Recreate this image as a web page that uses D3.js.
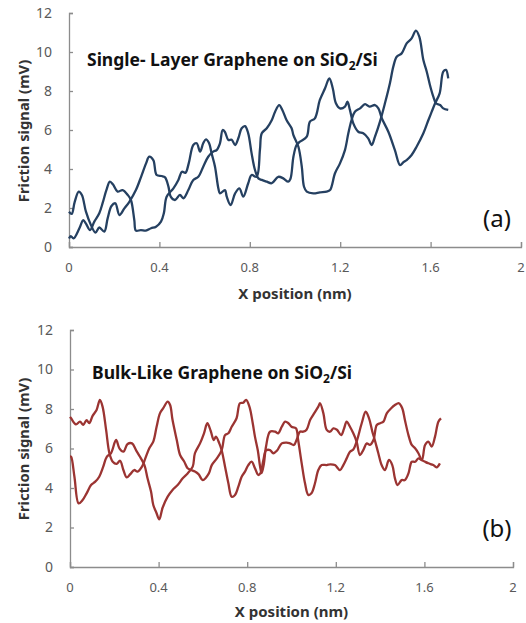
<!DOCTYPE html>
<html><head><meta charset="utf-8">
<script src="https://cdn.jsdelivr.net/npm/d3@7"></script>
<style>
body{margin:0;background:#fff;}
svg{display:block;font-family:"Noto Sans","Open Sans",sans-serif;}
</style></head>
<body><svg id="c" width="526" height="623"></svg>
<script>
// ---------- data ----------
const xTicks = [0, 0.4, 0.8, 1.2, 1.6, 2];
const yTicks = [0, 2, 4, 6, 8, 10, 12];

// Panel (a): single-layer graphene, two scan directions [x (nm), signal (mV)]
const singleTrace = [[0,1.81],[.012,1.7],[.025,2.3],[.043,2.84],[.057,2.67],[.075,1.81],[.097,1.13],[.117,.74],[.134,1.0],[.156,.79],[.171,1.47],[.188,2.1],[.205,2.24],[.223,1.64],[.245,1.98],[.267,2.32],[.296,2.92],[.319,3.6],[.341,4.29],[.355,4.63],[.373,4.46],[.388,3.69],[.41,3.64],[.425,3.57],[.44,3.1],[.45,2.58],[.469,2.41],[.491,2.67],[.506,2.5],[.528,2.92],[.55,3.44],[.572,3.6],[.594,4.12],[.616,4.63],[.638,4.89],[.653,4.97],[.668,5.32],[.68,6.0],[.69,5.9],[.705,5.49],[.72,5.5],[.735,5.23],[.75,5.6],[.764,6.09],[.779,6.2],[.793,5.83],[.808,4.8],[.823,3.95],[.838,3.52],[.853,3.44],[.875,3.35],[.897,3.27],[.926,3.6],[.948,3.52],[.97,3.35],[.98,3.5],[.993,4.63],[1.007,5.23],[1.022,5.4],[1.052,5.66],[1.066,6.43],[1.088,6.6],[1.11,7.54],[1.133,8.14],[1.152,8.65],[1.167,8.14],[1.181,7.37],[1.199,7.11],[1.221,7.2],[1.232,7.45],[1.243,7.03],[1.258,6.34],[1.28,5.91],[1.302,5.83],[1.324,5.57],[1.339,5.23],[1.354,5.66],[1.376,6.43],[1.398,7.37],[1.42,8.4],[1.435,9.25],[1.45,9.76],[1.472,9.93],[1.494,10.44],[1.516,10.7],[1.535,11.1],[1.55,10.79],[1.568,9.59],[1.583,8.99],[1.597,8.31],[1.612,7.71],[1.624,7.37],[1.642,7.28],[1.656,7.11],[1.678,7.03]];
const singleRetrace = [[0,.44],[.008,.56],[.02,.44],[.046,.96],[.063,1.38],[.075,1.2],[.093,.87],[.112,1.3],[.134,1.73],[.15,2.3],[.165,2.9],[.181,3.35],[.195,3.2],[.215,2.84],[.237,2.92],[.26,2.67],[.274,2.41],[.289,1.38],[.296,.84],[.318,.87],[.34,.84],[.363,.96],[.385,1.04],[.407,1.3],[.42,1.75],[.432,2.58],[.462,3.01],[.484,3.44],[.5,3.86],[.515,3.8],[.53,4.3],[.55,5.23],[.565,5.32],[.58,4.89],[.594,5.32],[.606,5.52],[.62,5.32],[.631,4.8],[.646,4.12],[.661,3.0],[.668,2.75],[.69,2.92],[.698,2.58],[.715,2.15],[.735,2.75],[.754,3.01],[.771,2.58],[.793,3.27],[.808,3.69],[.83,3.6],[.845,5.0],[.853,5.83],[.875,6.09],[.897,6.5],[.912,6.94],[.93,7.28],[.945,7.0],[.963,6.5],[.985,6.09],[.993,5.74],[1.015,5.14],[1.03,4.12],[1.04,3.09],[1.052,2.84],[1.081,2.75],[1.11,2.8],[1.14,2.84],[1.155,2.92],[1.177,3.78],[1.199,4.29],[1.221,4.97],[1.236,5.83],[1.25,6.5],[1.265,6.94],[1.288,7.11],[1.31,7.33],[1.33,7.2],[1.354,7.28],[1.369,7.11],[1.384,6.6],[1.413,5.91],[1.442,4.97],[1.465,4.2],[1.48,4.35],[1.494,4.46],[1.516,4.72],[1.538,5.14],[1.568,5.83],[1.59,6.5],[1.605,6.94],[1.62,7.37],[1.64,7.88],[1.656,8.99],[1.668,9.08],[1.678,8.65]];

// Panel (b): bulk-like graphene
const bulkTrace = [[0,7.6],[.005,7.53],[.027,7.22],[.045,7.36],[.06,7.2],[.075,7.44],[.087,7.28],[.102,7.65],[.12,7.95],[.135,8.46],[.147,8.12],[.163,6.94],[.178,5.76],[.193,5.33],[.21,5.22],[.226,5.38],[.241,4.91],[.256,4.54],[.272,4.7],[.29,4.91],[.305,4.83],[.325,5.08],[.34,5.5],[.358,6.01],[.376,6.35],[.391,7.1],[.406,7.78],[.421,8.04],[.441,8.37],[.452,8.2],[.463,7.44],[.482,6.43],[.497,5.67],[.516,5.33],[.531,5.0],[.546,4.91],[.564,4.83],[.58,4.7],[.6,4.4],[.627,4.74],[.64,5.16],[.663,5.5],[.685,5.92],[.7,6.68],[.715,6.77],[.73,7.1],[.752,7.53],[.767,8.29],[.782,8.32],[.795,8.46],[.81,8.12],[.825,7.28],[.835,6.6],[.848,5.9],[.858,5.1],[.865,4.75],[.875,5.2],[.885,6.1],[.903,6.85],[.926,6.85],[.94,6.77],[.956,7.1],[.971,7.36],[.986,7.28],[1.0,7.1],[1.02,7.02],[1.03,6.43],[1.046,5.25],[1.061,4.24],[1.076,3.65],[1.09,3.73],[1.106,4.24],[1.121,4.91],[1.136,5.16],[1.159,5.16],[1.174,5.2],[1.196,5.16],[1.219,4.91],[1.234,5.16],[1.249,5.5],[1.264,5.84],[1.279,5.95],[1.294,6.35],[1.317,7.28],[1.335,7.86],[1.35,7.53],[1.365,6.85],[1.376,6.43],[1.392,5.76],[1.407,5.16],[1.422,4.91],[1.44,5.42],[1.455,5.16],[1.467,4.49],[1.479,4.15],[1.497,4.4],[1.512,4.4],[1.528,4.74],[1.543,5.33],[1.558,5.33],[1.573,5.5],[1.588,5.42],[1.603,6.18],[1.618,6.35],[1.633,6.1],[1.648,6.6],[1.663,7.36],[1.675,7.53]];
const bulkRetrace = [[0,5.6],[.005,5.58],[.02,4.57],[.039,3.22],[.057,3.39],[.075,3.73],[.095,4.15],[.114,4.32],[.132,4.57],[.15,5.08],[.166,5.58],[.185,5.76],[.208,6.43],[.223,6.01],[.241,5.84],[.26,6.23],[.28,6.26],[.298,5.92],[.316,5.58],[.336,5.16],[.35,4.49],[.366,3.81],[.376,3.14],[.39,2.75],[.403,2.41],[.418,3.0],[.441,3.56],[.463,3.9],[.486,4.15],[.509,4.49],[.531,4.74],[.554,5.08],[.564,5.76],[.587,6.26],[.605,6.77],[.62,7.28],[.635,6.9],[.649,6.43],[.659,6.6],[.674,6.26],[.685,5.9],[.7,5.08],[.715,4.24],[.73,3.56],[.745,3.65],[.76,4.07],[.775,4.57],[.79,4.83],[.805,5.16],[.82,5.33],[.835,5.0],[.85,4.66],[.86,4.75],[.873,5.42],[.885,5.9],[.903,5.92],[.918,5.76],[.935,5.9],[.956,6.26],[.978,6.3],[.993,6.26],[1.011,6.18],[1.025,6.5],[1.038,6.85],[1.053,6.85],[1.068,6.95],[1.084,7.44],[1.098,7.7],[1.121,8.12],[1.129,8.29],[1.144,7.78],[1.159,6.94],[1.174,6.85],[1.189,7.02],[1.205,6.95],[1.224,6.68],[1.237,7.0],[1.249,7.36],[1.264,7.1],[1.279,6.77],[1.294,6.35],[1.309,5.67],[1.324,5.92],[1.34,6.26],[1.354,6.18],[1.37,6.43],[1.385,7.19],[1.4,7.28],[1.415,7.36],[1.43,7.78],[1.45,8.04],[1.467,8.2],[1.485,8.29],[1.5,8.04],[1.512,7.44],[1.528,6.68],[1.543,6.18],[1.558,6.01],[1.573,5.76],[1.588,5.42],[1.603,5.33],[1.618,5.25],[1.64,5.16],[1.655,5.05],[1.67,5.25]];

const panels = [
  {series:[singleTrace, singleRetrace], color:"#254061", title:["Single- Layer Graphene on SiO","2","/Si"], tag:"(a)",
   x0:69, x1:521, y0:247, y1:13, titleX:87, titleY:66, tagY:227, yLabY:131, xLabY:299},
  {series:[bulkTrace, bulkRetrace], color:"#9b3432", title:["Bulk-Like Graphene on SiO","2","/Si"], tag:"(b)",
   x0:70, x1:513, y0:567, y1:330, titleX:92, titleY:379, tagY:537, yLabY:449, xLabY:617}
];

const svg = d3.select("#c");
const axisColor = "#8c8c8c", labelColor = "#595959";

panels.forEach(p => {
  const x = d3.scaleLinear().domain([0, 2]).range([p.x0, p.x1]);
  const y = d3.scaleLinear().domain([0, 12]).range([p.y0, p.y1]);
  const g = svg.append("g");

  const yAx = g.append("g").attr("transform", `translate(${p.x0},0)`)
    .call(d3.axisRight(y).tickValues(yTicks).tickSize(4).tickFormat(""));
  const xAx = g.append("g").attr("transform", `translate(0,${p.y0})`)
    .call(d3.axisTop(x).tickValues(xTicks).tickSize(5).tickFormat(""));
  [yAx, xAx].forEach(a => {
    a.select(".domain").attr("stroke", axisColor).attr("stroke-width", 1.3);
    a.selectAll(".tick line").attr("stroke", axisColor).attr("stroke-width", 1.3);
  });

  g.selectAll(".ylab").data(yTicks).enter().append("text")
    .attr("x", p.x0 - 17).attr("y", d => y(d)).attr("dy", "0.35em")
    .attr("text-anchor", "end").attr("fill", labelColor).attr("font-size", 14)
    .text(d => d);
  g.selectAll(".xlab").data(xTicks).enter().append("text")
    .attr("x", d => x(d)).attr("y", p.y0 + 25)
    .attr("text-anchor", "middle").attr("fill", labelColor).attr("font-size", 13)
    .text(d => d);

  g.append("text").attr("transform", `translate(29,${p.yLabY}) rotate(-90)`)
    .attr("text-anchor", "middle").attr("font-weight", "bold").attr("font-size", 14.8)
    .attr("fill", "#333").text("Friction signal (mV)");
  g.append("text").attr("x", (p.x0 + p.x1) / 2).attr("y", p.xLabY)
    .attr("text-anchor", "middle").attr("font-weight", "bold").attr("font-size", 15)
    .attr("fill", "#333").text("X position (nm)");

  const t = g.append("text").attr("x", p.titleX).attr("y", p.titleY)
    .attr("font-weight", "bold").attr("font-size", 17.5).attr("fill", "#111");
  t.append("tspan").text(p.title[0]);
  t.append("tspan").attr("dy", 4).attr("font-size", 12).text(p.title[1]);
  t.append("tspan").attr("dy", -4).text(p.title[2]);

  g.append("text").attr("x", 497).attr("y", p.tagY).attr("text-anchor", "middle")
    .attr("font-size", 24).attr("fill", "#111").text(p.tag);

  const line = d3.line().x(d => x(d[0])).y(d => y(d[1])).curve(d3.curveCatmullRom.alpha(0.5));
  g.selectAll(".s").data(p.series).enter().append("path")
    .attr("d", line).attr("fill", "none").attr("stroke", p.color)
    .attr("stroke-width", 2.3).attr("stroke-linejoin", "round");
});
</script></body></html>
